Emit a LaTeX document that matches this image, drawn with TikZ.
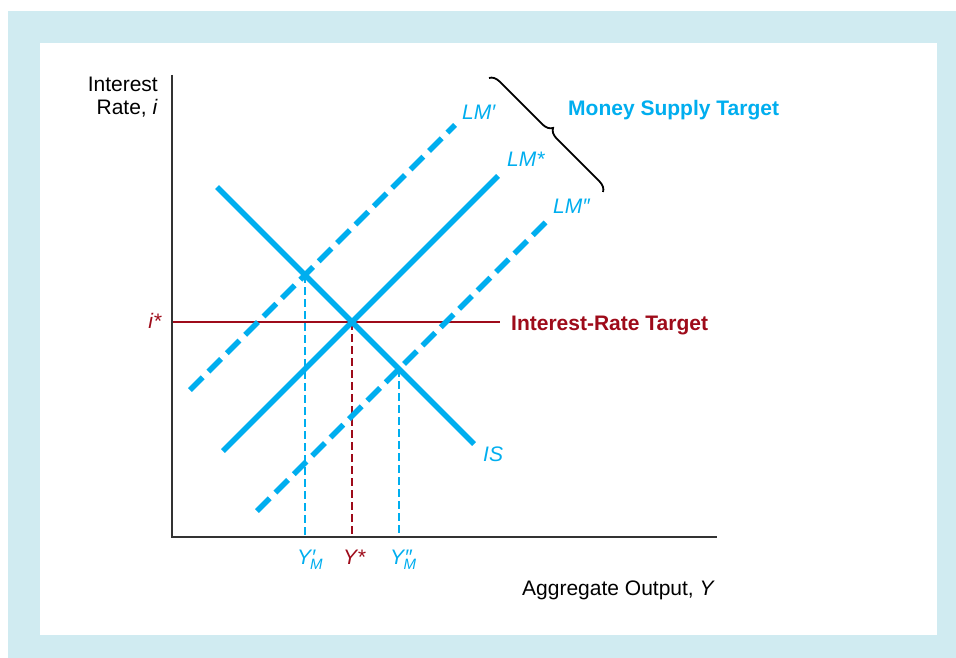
\documentclass[tikz,border=0pt]{standalone}
\usepackage{fontspec}
\setmainfont{Liberation Sans}
\usetikzlibrary{decorations.pathreplacing}
\definecolor{bgblue}{HTML}{D0EBF1}
\definecolor{cyanline}{HTML}{00AEEF}
\definecolor{darkred}{HTML}{9E0B1A}
\definecolor{axisgray}{HTML}{333333}
\tikzset{
  lbl/.style={inner sep=0pt, font=\fontsize{21}{23}\selectfont},
  curve/.style={cyanline, line width=5.5pt},
  dcurve/.style={cyanline, line width=5.5pt, dash pattern=on 18pt off 8pt},
  guide/.style={line width=1.2pt, dash pattern=on 8pt off 4pt},
  axisline/.style={axisgray, line width=1.8pt},
}
\newcommand{\subM}{\raisebox{-5pt}{\fontsize{15}{15}\selectfont\itshape M}}
\begin{document}
\begin{tikzpicture}[x=1pt,y=-1pt]
\useasboundingbox (0,0) rectangle (956,658);
\fill[bgblue] (8,11) rectangle (956,658);
\fill[white] (40,43) rectangle (937,635);

% key points
\coordinate (E) at (352,322);
\coordinate (Ep) at (305,275);
\coordinate (Epp) at (399,369);
\coordinate (Ex) at (352,537);
\coordinate (Epx) at (305,537);
\coordinate (Eppx) at (399,537);
\coordinate (Ey) at (172,322);
\coordinate (Rt) at (500,322);

% guides
\draw[guide, cyanline] (Ep) -- (Epx);
\draw[guide, cyanline] (Epp) -- (Eppx);
\draw[guide, darkred] (E) -- (Ex);
\draw[darkred, line width=1.2pt] (Ey) -- (Rt);

% axes
\coordinate (O) at (172,537);
\coordinate (Ytop) at (172,75);
\coordinate (Xend) at (717,537);
\draw[axisline] (Ytop) -- (O) -- (Xend);

% curves
\coordinate (IS1) at (217,187);
\coordinate (IS2) at (474,444);
\coordinate (LM1) at (223,451);
\coordinate (LM2) at (498,176);
\coordinate (LMa1) at (190,390);
\coordinate (LMa2) at (455,125);
\coordinate (LMb1) at (257,511);
\coordinate (LMb2) at (546,222);
\draw[dcurve] (LMa1) -- (LMa2);
\draw[dcurve] (LMb1) -- (LMb2);
\draw[curve] (LM1) -- (LM2);
\draw[curve] (IS1) -- (IS2);

% brace
\coordinate (B1) at (489,78);
\coordinate (B2) at (603,192);
\draw[decorate, decoration={brace, amplitude=10pt}, line width=1.8pt] (B1) -- (B2);

% labels
\node[lbl, anchor=north east, align=right] (ylab) at (158,77) {Interest\\Rate, \textit{i}};
\node[lbl, anchor=base east, text=darkred] (istar) at (162,328) {\textit{i*}};
\node[lbl, anchor=base west, text=darkred, font=\fontsize{21}{23}\selectfont\bfseries] (irt) at (511,330) {Interest-Rate Target};
\node[lbl, anchor=base west, text=cyanline, font=\fontsize{21}{23}\selectfont\bfseries] (mst) at (568,116) {Money Supply Target};
\node[lbl, anchor=base west, text=cyanline] (lma) at (462,120) {\textit{LM′}};
\node[lbl, anchor=base west, text=cyanline] (lms) at (507,167) {\textit{LM*}};
\node[lbl, anchor=base west, text=cyanline] (lmb) at (553,213) {\textit{LM″}};
\node[lbl, anchor=base west, text=cyanline] (is) at (483,461) {\textit{IS}};
\node[lbl, anchor=base west, text=cyanline] (yma) at (297,564) {\textit{Y}\kern-1pt\textit{′}\kern-6pt\subM};
\node[lbl, anchor=base west, text=darkred] (ys) at (343,564) {\textit{Y*}};
\node[lbl, anchor=base west, text=cyanline] (ymb) at (390,564) {\textit{Y}\kern-1pt\textit{″}\kern-9pt\subM};
\node[lbl, anchor=base west] (xlab) at (522,595) {Aggregate Output, \textit{Y}};
\end{tikzpicture}
\end{document}
